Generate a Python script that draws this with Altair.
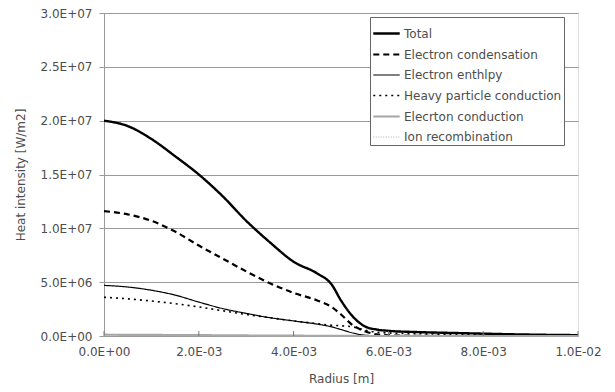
import altair as alt
import pandas as pd

radius = [0.0, 0.5e-3, 1.0e-3, 1.5e-3, 2.0e-3, 2.5e-3, 3.0e-3, 3.5e-3, 4.0e-3, 4.5e-3, 4.8e-3,
          5.0e-3, 5.25e-3, 5.5e-3, 5.75e-3, 6.0e-3, 6.5e-3, 7.0e-3, 7.5e-3, 8.0e-3, 8.5e-3,
          9.0e-3, 9.5e-3, 1.0e-2]

total = [2.00e7, 1.95e7, 1.83e7, 1.67e7, 1.50e7, 1.30e7, 1.07e7, 8.7e6, 6.9e6, 5.8e6, 4.8e6,
         3.3e6, 1.8e6, 0.9e6, 0.6e6, 0.48e6, 0.38e6, 0.32e6, 0.27e6, 0.22e6, 0.17e6,
         0.13e6, 0.10e6, 0.08e6]
condensation = [1.16e7, 1.13e7, 1.07e7, 9.7e6, 8.4e6, 7.2e6, 6.0e6, 4.9e6, 4.0e6, 3.3e6, 2.7e6,
                2.0e6, 1.0e6, 0.45e6, 0.15e6, 0.06e6, 0.02e6, 0.01e6, 0.0, 0.0, 0.0,
                0.0, 0.0, 0.0]
enthalpy = [4.7e6, 4.55e6, 4.25e6, 3.8e6, 3.15e6, 2.55e6, 2.1e6, 1.7e6, 1.4e6, 1.1e6, 0.85e6,
            0.6e6, 0.28e6, 0.08e6, 0.03e6, 0.02e6, 0.01e6, 0.01e6, 0.01e6, 0.01e6, 0.01e6,
            0.01e6, 0.01e6, 0.01e6]
heavy = [3.6e6, 3.45e6, 3.25e6, 3.0e6, 2.7e6, 2.35e6, 2.0e6, 1.7e6, 1.4e6, 1.15e6, 1.0e6,
         0.95e6, 0.85e6, 0.55e6, 0.35e6, 0.28e6, 0.22e6, 0.18e6, 0.15e6, 0.12e6, 0.10e6,
         0.08e6, 0.06e6, 0.05e6]
e_conduction = [0.12e6, 0.11e6, 0.10e6, 0.09e6, 0.08e6, 0.065e6, 0.05e6, 0.04e6, 0.03e6, 0.02e6, 0.015e6,
                0.01e6, 0.005e6, 0.0, 0.0, 0.0, 0.0, 0.0, 0.0, 0.0, 0.0,
                0.0, 0.0, 0.0]
ion_recomb = [0.05e6, 0.05e6, 0.045e6, 0.04e6, 0.035e6, 0.03e6, 0.025e6, 0.02e6, 0.015e6, 0.01e6, 0.01e6,
              0.01e6, 0.005e6, 0.0, 0.0, 0.0, 0.0, 0.0, 0.0, 0.0, 0.0,
              0.0, 0.0, 0.0]

series_names = ["Total", "Electron condensation", "Electron enthlpy",
                "Heavy particle conduction", "Elecrton conduction", "Ion recombination"]
series_values = [total, condensation, enthalpy, heavy, e_conduction, ion_recomb]
series_colors = ["#000000", "#000000", "#000000", "#000000", "#a6a6a6", "#b0b0b0"]
series_dash = [[1, 0], [6, 4], [1, 0], [2, 4], [1, 0], [1, 1.5]]
series_width = [2.4, 2.2, 1.2, 1.6, 2.2, 1.0]

x_ticks = [0.0, 2e-3, 4e-3, 6e-3, 8e-3, 1e-2]
y_ticks = [0, 5e6, 1e7, 1.5e7, 2e7, 2.5e7, 3e7]

rows = []
for name, vals in zip(series_names, series_values):
    for i, (r, v) in enumerate(zip(radius, vals)):
        rows.append({"series": name, "radius": r, "value": v, "order": i})
df = pd.DataFrame(rows)

FONT = "DejaVu Sans"
TXT = "#4d4d4d"
SCI = "replace(replace(format(datum.value, '.1e'), 'e', 'E'), /E([+-])(\\d)$/, 'E$10$2')"

legend = alt.Legend(
    title=None, orient="none", legendX=266, legendY=4,
    symbolType="stroke", symbolSize=700,
    labelFont=FONT, labelFontSize=12, labelColor=TXT,
    strokeColor="#666666", fillColor="white", padding=2,
    rowPadding=0, labelOffset=3, symbolOffset=0, labelLimit=300,
)

lines = alt.Chart(df).mark_line(interpolate="monotone").encode(
    x=alt.X("radius:Q", scale=alt.Scale(domain=[0, 0.01], nice=False),
            axis=alt.Axis(values=x_ticks, title="Radius [m]", labelExpr=SCI,
                          grid=False, ticks=False, domainColor="#999999", labelFlush=False,
                          labelOverlap=False,
                          labelFont=FONT, labelFontSize=12, labelColor=TXT, labelPadding=10,
                          titleFont=FONT, titleFontSize=12, titleColor=TXT, titleFontWeight="normal",
                          titlePadding=16)),
    y=alt.Y("value:Q", scale=alt.Scale(domain=[0, 3e7], nice=False),
            axis=alt.Axis(values=y_ticks, title="Heat intensity [W/m2]", labelExpr=SCI,
                          labelOverlap=False, labelFlush=False,
                          grid=True, gridColor="#999999", gridWidth=1.2,
                          tickColor="#999999", tickSize=5, domainColor="#999999",
                          labelFont=FONT, labelFontSize=12, labelColor=TXT, labelPadding=7,
                          titleFont=FONT, titleFontSize=12, titleColor=TXT, titleFontWeight="normal",
                          titlePadding=13)),
    color=alt.Color("series:N", scale=alt.Scale(domain=series_names, range=series_colors),
                    sort=series_names, legend=legend),
    strokeDash=alt.StrokeDash("series:N", scale=alt.Scale(domain=series_names, range=series_dash),
                              sort=series_names, legend=legend),
    strokeWidth=alt.StrokeWidth("series:N",
                                scale=alt.Scale(type="ordinal", domain=series_names, range=series_width),
                                sort=series_names, legend=legend),
    order="order:Q",
)

xticks_df = pd.DataFrame({"radius": x_ticks})
xticks = alt.Chart(xticks_df).mark_rule(color="#777777", strokeWidth=1).encode(
    x="radius:Q", y=alt.value(323), y2=alt.value(318)
)

chart = alt.layer(lines, xticks).properties(
    width=474, height=323,
    autosize=alt.AutoSizeParams(type="none"),
    padding={"left": 104, "top": 13, "right": 37, "bottom": 56},
).configure_view(stroke="#999999", strokeWidth=1).configure(background="white")

chart.save("out.html", embed_options={"renderer": "svg", "actions": False})
